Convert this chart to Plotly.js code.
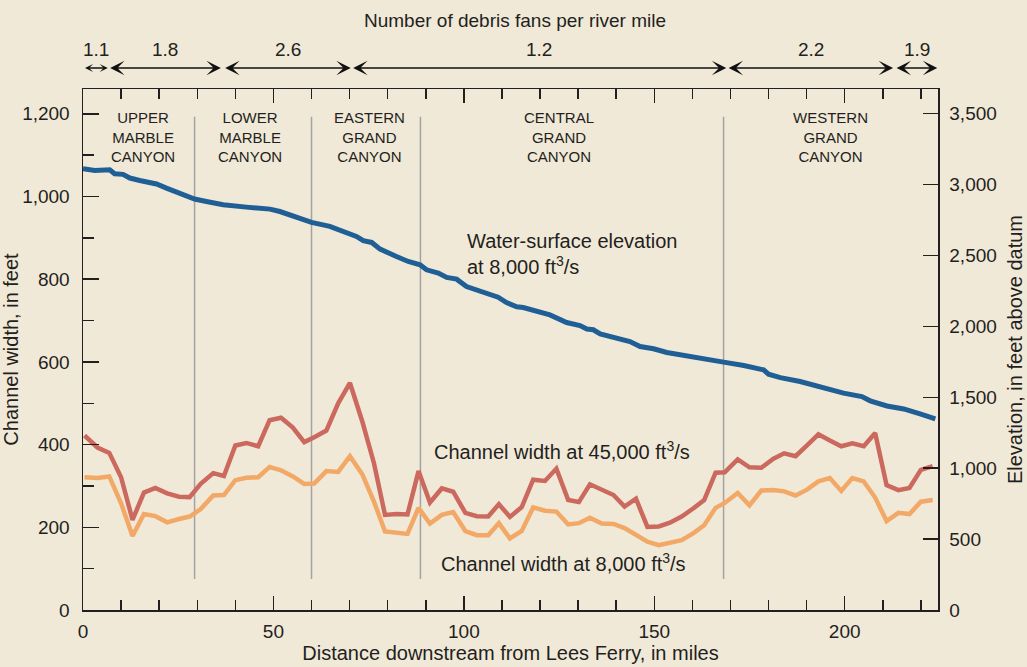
<!DOCTYPE html>
<html>
<head>
<meta charset="utf-8">
<script src="https://cdn.plot.ly/plotly-3.0.1.min.js"></script>
<style>
  html, body { margin: 0; padding: 0; background: #f1e9d8; }
  #chart { width: 1027px; height: 667px; }
</style>
</head>
<body>
<div id="chart"></div>
<script>
// ---- Data ----
// River miles downstream from Lees Ferry for the channel-width series
const miles = [0.4, 3.8, 6.9, 10.0, 13.0, 16.0, 19.0, 22.1, 25.2, 28.0, 30.9, 34.2, 37.0, 40.0, 42.9, 46.0,
  49.0, 52.0, 55.1, 58.1, 60.7, 63.9, 67.0, 70.1, 73.4, 76.4, 79.3, 82.3, 85.2, 88.1, 91.1, 94.2, 97.2,
  100.4, 103.4, 106.4, 109.2, 112.1, 115.2, 118.2, 121.3, 124.3, 127.4, 130.2, 133.1, 136.2, 139.3, 142.2,
  145.2, 148.2, 151.2, 154.1, 157.2, 160.3, 163.1, 166.1, 168.5, 171.9, 175.0, 178.1, 181.3, 184.1, 187.1,
  190.1, 193.1, 196.1, 199.1, 202.0, 205.0, 208.0, 211.0, 214.1, 217.0, 220.0, 223.1];

// Channel width at 45,000 ft3/s (feet)
const width45000 = [422, 393, 380, 321, 218, 284, 295, 282, 274, 273, 305, 331, 324, 398, 404, 396,
  459, 465, 441, 406, 418, 434, 500, 549, 454, 355, 230, 232, 231, 336, 260, 294, 286,
  235, 227, 226, 256, 225, 249, 315, 312, 342, 266, 261, 304, 290, 278, 250,
  269, 201, 202, 211, 226, 246, 266, 332, 333, 364, 345, 344, 366, 379, 372,
  398, 425, 410, 396, 403, 396, 428, 302, 290, 295, 339, 348];

// Channel width at 8,000 ft3/s (feet)
const width8000 = [321, 319, 323, 258, 179, 232, 227, 212, 220, 226, 244, 277, 278, 314, 320, 321,
  346, 338, 323, 305, 306, 336, 334, 372, 327, 262, 190, 187, 184, 247, 209, 230, 237,
  191, 181, 181, 210, 173, 191, 248, 240, 238, 207, 210, 223, 209, 208, 198,
  181, 165, 157, 163, 169, 186, 205, 247, 259, 283, 253, 289, 290, 287, 277,
  291, 311, 319, 288, 319, 311, 272, 215, 235, 232, 262, 266];

// Water-surface elevation at 8,000 ft3/s (feet above datum)
const elevMiles = [0.0, 0.4, 3.1, 7.0, 8.3, 10.5, 12.3, 14.9, 19.3, 21.9, 24.5, 26.3, 29.3, 32.4, 36.8,
  42.9, 49.1, 51.7, 55.2, 60.0, 64.8, 68.3, 71.8, 73.6, 75.8, 78.0, 80.6, 82.3, 85.4, 88.5, 90.2,
  93.3, 95.5, 98.1, 100.7, 105.1, 106.9, 109.0, 111.2, 113.9, 115.6, 118.2, 122.6, 127.0, 130.5,
  132.3, 134.0, 135.8, 138.0, 141.0, 143.6, 146.3, 149.8, 153.3, 157.6, 162.0, 168.2, 173.5, 177.0,
  178.7, 180.0, 183.1, 188.3, 192.7, 197.1, 199.7, 204.5, 206.7, 211.1, 215.5, 219.8, 223.8];
const elevation = [3112, 3110, 3100, 3104, 3076, 3072, 3046, 3029, 3004, 2975, 2947, 2921, 2898, 2881, 2858,
  2841, 2827, 2810, 2775, 2733, 2705, 2669, 2634, 2604, 2592, 2545, 2510, 2493, 2458, 2434, 2399,
  2376, 2345, 2333, 2281, 2246, 2223, 2206, 2168, 2138, 2133, 2112, 2081, 2027, 2006,
  1981, 1976, 1947, 1933, 1905, 1893, 1858, 1842, 1816, 1794, 1776, 1748, 1724, 1698,
  1693, 1663, 1639, 1611, 1581, 1545, 1529, 1505, 1475, 1439, 1418, 1383, 1348];

// Reach boundaries (river miles)
const reachBoundaries = [29.3, 60.0, 88.6, 168.2];
const reachNames = ['UPPER<br>MARBLE<br>CANYON', 'LOWER<br>MARBLE<br>CANYON', 'EASTERN<br>GRAND<br>CANYON',
  'CENTRAL<br>GRAND<br>CANYON', 'WESTERN<br>GRAND<br>CANYON'];

// Debris fans per river mile, by segment
const fanRates = ['1.1', '1.8', '2.6', '1.2', '2.2', '1.9'];
const fanStart = [0.4, 7.0, 37.2, 70.8, 169.4, 213.5];
const fanEnd = [6.5, 36.2, 70.3, 168.9, 212.7, 224.3];

// Axis ticks
const xTicks = [0, 50, 100, 150, 200];
const widthTicks = [0, 200, 400, 600, 800, 1000, 1200];
const elevTicks = [0, 500, 1000, 1500, 2000, 2500, 3000, 3500];

// ---- Styling ----
const BG = '#f1e9d8';
const INK = '#231f20';
const FONT = 'Liberation Sans, Arial, sans-serif';
const BLUE = '#1f5f95';
const RED = '#cc695e';
const ORANGE = '#f2a866';
const GRAY = '#a3a3a3';

const traces = [
  { x: miles, y: width8000, type: 'scatter', mode: 'lines', yaxis: 'y',
    line: { color: ORANGE, width: 4.5 }, hoverinfo: 'x+y', name: 'Channel width at 8,000 ft³/s' },
  { x: miles, y: width45000, type: 'scatter', mode: 'lines', yaxis: 'y',
    line: { color: RED, width: 4.5 }, hoverinfo: 'x+y', name: 'Channel width at 45,000 ft³/s' },
  { x: elevMiles, y: elevation, type: 'scatter', mode: 'lines', yaxis: 'y2',
    line: { color: BLUE, width: 5 }, hoverinfo: 'x+y', name: 'Water-surface elevation' }
];

const shapes = reachBoundaries.map(b => ({
  type: 'line', xref: 'x', yref: 'y', x0: b, x1: b, y0: 75, y1: 1193,
  line: { color: GRAY, width: 1.5 }, layer: 'below'
}));

const annotations = [];
// Reach labels
const reachLabelX = [15.8, 43.8, 75.3, 125.1, 196.4];
reachNames.forEach((n, i) => annotations.push({
  text: n, x: reachLabelX[i], xref: 'x', y: 0.965, yref: 'paper', yanchor: 'top', xanchor: 'center',
  showarrow: false, align: 'center', font: { family: FONT, size: 15, color: INK }
}));
// Debris fan header
annotations.push({
  text: 'Number of debris fans per river mile', x: 0.5053, xref: 'paper', y: 1.1324, yref: 'paper',
  xanchor: 'center', yanchor: 'middle', showarrow: false, font: { family: FONT, size: 19, color: INK }
});
fanRates.forEach((r, i) => {
  const segLen = fanEnd[i] - fanStart[i];
  const headSize = segLen < 8 ? 0.9 : 1.6;
  annotations.push({
    text: r, x: (fanStart[i] + fanEnd[i]) / 2, xref: 'x', y: 1.0749, yref: 'paper',
    xanchor: 'center', yanchor: 'middle', showarrow: false, font: { family: FONT, size: 19, color: INK }
  });
  annotations.push({
    text: '', x: fanEnd[i], xref: 'x', y: 1.0403, yref: 'paper',
    ax: fanStart[i], axref: 'x', ay: 0, ayref: 'pixel',
    showarrow: true, arrowside: 'end+start', arrowhead: 3, startarrowhead: 3,
    arrowsize: headSize, startarrowsize: headSize, arrowwidth: 1.5, arrowcolor: '#111',
    standoff: 0, startstandoff: 0, borderpad: 0
  });
});
// Series labels
annotations.push({
  text: 'Water-surface elevation<br>at 8,000 ft<sup>3</sup>/s', x: 100.2, xref: 'x', y: 862, yref: 'y',
  xanchor: 'left', yanchor: 'middle', align: 'left', showarrow: false,
  font: { family: FONT, size: 20, color: INK }
});
annotations.push({
  text: 'Channel width at 45,000 ft<sup>3</sup>/s', x: 91.6, xref: 'x', y: 385, yref: 'y',
  xanchor: 'left', yanchor: 'middle', showarrow: false, font: { family: FONT, size: 20, color: INK }
});
annotations.push({
  text: 'Channel width at 8,000 ft<sup>3</sup>/s', x: 93.4, xref: 'x', y: 114, yref: 'y',
  xanchor: 'left', yanchor: 'middle', showarrow: false, font: { family: FONT, size: 20, color: INK }
});

const axisCommon = {
  showgrid: false, zeroline: false, showline: true, linecolor: INK, linewidth: 1.5,
  ticks: 'inside', tickcolor: INK, tickwidth: 1.5,
  tickfont: { family: FONT, size: 19, color: INK }
};

const layout = {
  width: 1027, height: 667,
  margin: { l: 83, r: 89, t: 89, b: 57 },
  paper_bgcolor: BG, plot_bgcolor: BG,
  showlegend: false,
  font: { family: FONT, color: INK },
  xaxis: Object.assign({}, axisCommon, {
    range: [0, 224.5], tickvals: xTicks, ticklen: 14, mirror: 'ticks',
    minor: { dtick: 10, tick0: 0, ticks: 'inside', ticklen: 10, tickwidth: 1.5, tickcolor: INK },
    ticklabelstandoff: 4,
    title: { text: 'Distance downstream from Lees Ferry, in miles', font: { family: FONT, size: 20, color: INK }, standoff: 4 }
  }),
  yaxis: Object.assign({}, axisCommon, {
    range: [0, 1260], tickvals: widthTicks, tickformat: ',', ticklen: 16,
    minor: { dtick: 100, tick0: 0, ticks: 'inside', ticklen: 11, tickwidth: 1.5, tickcolor: INK },
    ticklabelstandoff: 8,
    title: { text: 'Channel width, in feet', font: { family: FONT, size: 20, color: INK }, standoff: 2 }
  }),
  yaxis2: Object.assign({}, axisCommon, {
    overlaying: 'y', side: 'right', range: [0, 3674], tickvals: elevTicks, tickformat: ',', ticklen: 15,
    ticklabelstandoff: 6,
    title: { text: 'Elevation, in feet above datum', font: { family: FONT, size: 20, color: INK }, standoff: 12 }
  }),
  shapes: shapes,
  annotations: annotations
};

Plotly.newPlot('chart', traces, layout, { displayModeBar: false, staticPlot: true });
</script>
</body>
</html>
